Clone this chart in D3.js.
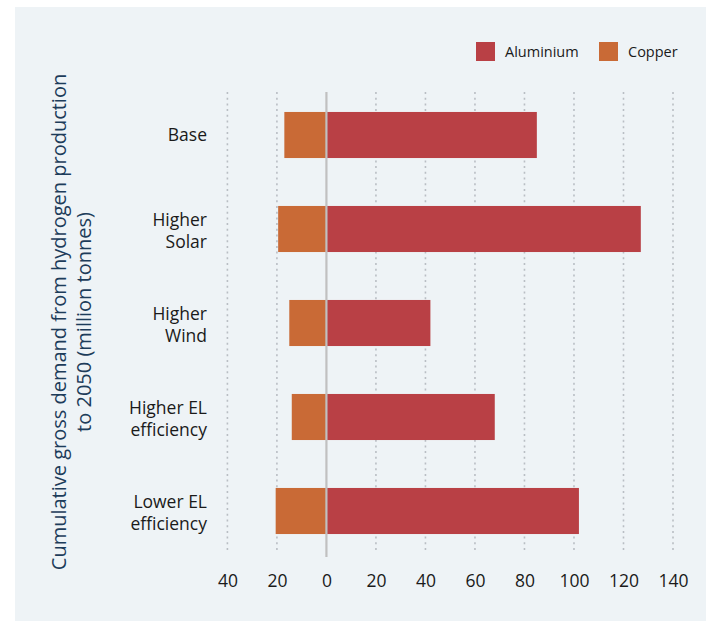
<!DOCTYPE html>
<html>
<head>
<meta charset="utf-8">
<script src="https://cdn.jsdelivr.net/npm/d3@7"></script>
<style>
  html, body { margin: 0; padding: 0; background: #ffffff; }
  svg { display: block; font-family: "Open Sans", "Noto Sans", sans-serif; }
</style>
</head>
<body>
<svg id="chart" width="706" height="621"></svg>
<script>
const categories = ["Base", "Higher Solar", "Higher Wind", "Higher EL efficiency", "Lower EL efficiency"];
const categoryLines = [["Base"], ["Higher", "Solar"], ["Higher", "Wind"], ["Higher EL", "efficiency"], ["Lower EL", "efficiency"]];
const aluminium = [85, 127, 42, 68, 102];
const copper = [17, 19.5, 15, 14, 20.5];
const seriesNames = ["Aluminium", "Copper"];
const tickValues = [-40, -20, 0, 20, 40, 60, 80, 100, 120, 140];
const yTitle = ["Cumulative gross demand from hydrogen production", "to 2050 (million tonnes)"];

const colors = { Aluminium: "#b94045", Copper: "#c96a36" };

const svg = d3.select("#chart");
const W = 706, H = 621;

svg.append("rect").attr("x", 15).attr("y", 7).attr("width", W - 15).attr("height", H - 7).attr("fill", "#eef3f6");

const x = d3.scaleLinear().domain([-40, 140]).range([227.4, 673]);
const y = d3.scaleBand().domain(categories).range([88, 558]).paddingInner(0.51).paddingOuter(0.255);

const gridTop = 92, gridBottom = 553;

// gridlines
svg.append("g").selectAll("line")
  .data(tickValues.filter(d => d !== 0))
  .join("line")
  .attr("x1", d => x(d)).attr("x2", d => x(d))
  .attr("y1", gridTop).attr("y2", gridBottom)
  .attr("stroke", "#b9bec4").attr("stroke-width", 1.6)
  .attr("stroke-dasharray", "2,3.7");

// bars
const rows = categories.map((c, i) => ({ c, al: aluminium[i], cu: copper[i] }));
svg.append("g").selectAll("rect.al").data(rows).join("rect")
  .attr("x", x(0)).attr("y", d => y(d.c))
  .attr("width", d => x(d.al) - x(0)).attr("height", y.bandwidth())
  .attr("fill", colors.Aluminium);
svg.append("g").selectAll("rect.cu").data(rows).join("rect")
  .attr("x", d => x(-d.cu)).attr("y", d => y(d.c))
  .attr("width", d => x(0) - x(-d.cu)).attr("height", y.bandwidth())
  .attr("fill", colors.Copper);

// zero line
svg.append("line")
  .attr("x1", x(0)).attr("x2", x(0)).attr("y1", gridTop).attr("y2", 557)
  .attr("stroke", "#c0c0c0").attr("stroke-width", 2.2);

// x axis
const xAxis = d3.axisBottom(x).tickValues(tickValues).tickFormat(d => Math.abs(d)).tickSize(0).tickPadding(0);
const gx = svg.append("g").attr("transform", "translate(0,575)").call(xAxis);
gx.select(".domain").remove();
gx.selectAll("text").attr("font-size", 17.5).attr("fill", "#1a1a1a").attr("dy", "0.71em")
  .style("font-family", "'Open Sans', sans-serif");

// category labels
const lab = svg.append("g").selectAll("text").data(categories).join("text")
  .attr("text-anchor", "end")
  .attr("font-size", 17.5)
  .attr("fill", "#1a1a1a");
lab.each(function(c, i) {
  const lines = categoryLines[i];
  const cy = y(c) + y.bandwidth() / 2;
  const lh = 22;
  const start = cy - (lines.length - 1) * lh / 2 + (lines.length > 1 ? 2 : 0);
  d3.select(this).selectAll("tspan").data(lines).join("tspan")
    .attr("x", 207).attr("y", (d, j) => start + j * lh).attr("dy", "0.35em").text(d => d);
});

// y title
const yt = svg.append("text")
  .attr("transform", "translate(0,322) rotate(-90)")
  .attr("text-anchor", "middle").attr("font-size", 20).attr("fill", "#1d3c5a");
yt.selectAll("tspan").data(yTitle).join("tspan")
  .attr("x", 0).attr("y", (d, i) => 59 + i * 25).attr("dy", "0.35em").text(d => d);

// legend
const leg = svg.append("g");
const legX = [476, 599];
seriesNames.forEach((s, i) => {
  leg.append("rect").attr("x", legX[i]).attr("y", 42).attr("width", 19).attr("height", 19).attr("fill", colors[s]);
  leg.append("text").attr("x", legX[i] + 29).attr("y", 51.5).attr("dy", "0.35em")
    .attr("font-size", 14.5).attr("fill", "#1a1a1a").text(s);
});
</script>
</body>
</html>
